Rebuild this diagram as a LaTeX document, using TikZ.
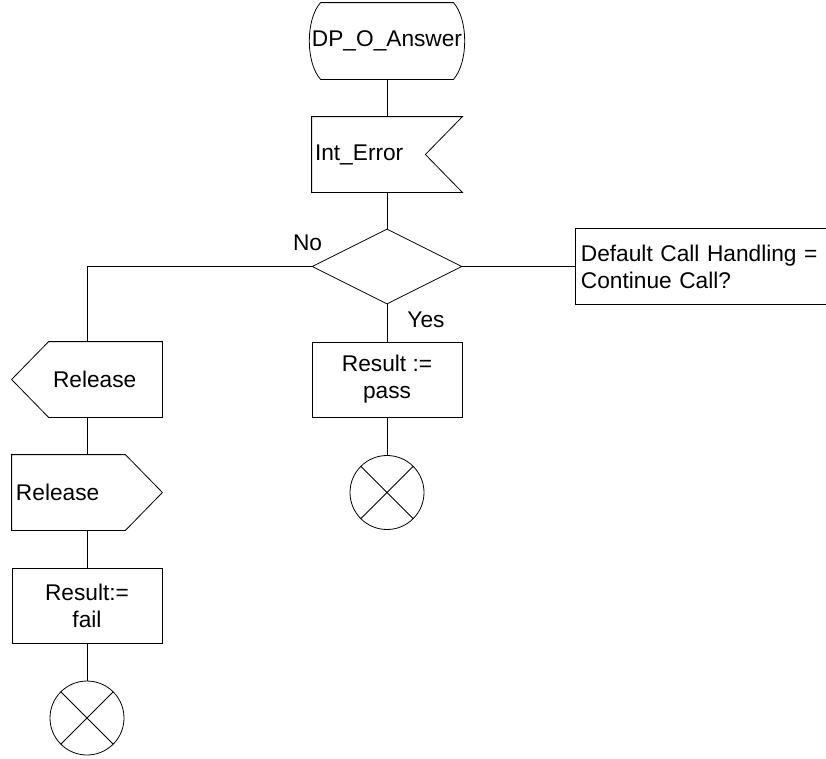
\documentclass[tikz,border=0pt]{standalone}
\usepackage{fontspec}
\setmainfont{Liberation Sans}
\usetikzlibrary{shapes.geometric}

\begin{document}
\begin{tikzpicture}[x=1pt, y=-1pt, line width=0.8pt, font=\fontsize{22.7}{27}\selectfont,
  sym/.style={rectangle, minimum width=150pt, minimum height=75pt, inner sep=3pt},
  task/.style={sym, draw, align=center},
  decision/.style={diamond, draw, minimum width=150pt, minimum height=75pt, inner sep=0pt},
  stopper/.style={circle, draw, minimum size=74pt, inner sep=0pt, path picture={
    \draw (path picture bounding box.north west) -- (path picture bounding box.south east);
    \draw (path picture bounding box.north east) -- (path picture bounding box.south west);}}]
  \useasboundingbox (0,0) rectangle (826,758);
  \node[sym, minimum height=76pt, inner sep=0pt] (dp) at (387,41) {DP\_O\_Answer};
  \node[sym, text width=144pt, align=left] (ie) at (387,154.5) {Int\_Error};
  \node[decision] (dia) at (387,266.5) {};
  \node[sym, minimum width=251pt, text width=240pt, inner sep=5pt, align=left, anchor=west] (cmt) at (575,266.5) {Default Call Handling =\\Continue Call?};
  \node[task] (pass) at (387,379.5) {Result :=\\pass};
  \node[stopper] (stop1) at (387,492.5) {};
  \node[sym, text width=144pt, align=left] (rin) at (87,379.5) {\hspace*{38pt}Release};
  \node[sym, text width=142pt, inner sep=4pt, align=left] (rout) at (87,492.5) {Release};
  \node[task] (fail) at (87,605.5) {Result:=\\fail};
  \node[stopper] (stop2) at (87,718) {};
  \node (no) at ([xshift=-4pt,yshift=24pt]dia.west) {No};
  \node (yes) at ([xshift=39pt,yshift=-15pt]dia.south) {Yes};

  \draw ([xshift=9pt]dp.north west) -- ([xshift=-9pt]dp.north east)
    .. controls ([xshift=6pt,yshift=-17pt]dp.north east) and ([xshift=6pt,yshift=17pt]dp.south east) .. ([xshift=-9pt]dp.south east)
    -- ([xshift=9pt]dp.south west)
    .. controls ([xshift=-6pt,yshift=17pt]dp.south west) and ([xshift=-6pt,yshift=-17pt]dp.north west) .. ([xshift=9pt]dp.north west);
  \draw (ie.north west) -- (ie.north east) -- ([xshift=-37pt]ie.east) -- (ie.south east) -- (ie.south west) -- cycle;
  \draw (cmt.north east) -- (cmt.north west) -- (cmt.south west) -- (cmt.south east);
  \draw ([xshift=37pt]rin.north west) -- (rin.north east) -- (rin.south east) -- ([xshift=37pt]rin.south west) -- (rin.west) -- cycle;
  \draw (rout.north west) -- ([xshift=-37pt]rout.north east) -- (rout.east) -- ([xshift=-37pt]rout.south east) -- (rout.south west) -- cycle;

  \draw (dp.south) -- (ie.north);
  \draw (ie.south) -- (dia.north);
  \draw (dia.east) -- (cmt.west);
  \draw (dia.west) -| (rin.north);
  \draw (dia.south) -- (pass.north);
  \draw (pass.south) -- (stop1.north);
  \draw (rin.south) -- (rout.north);
  \draw (rout.south) -- (fail.north);
  \draw (fail.south) -- (stop2.north);
\end{tikzpicture}
\end{document}
